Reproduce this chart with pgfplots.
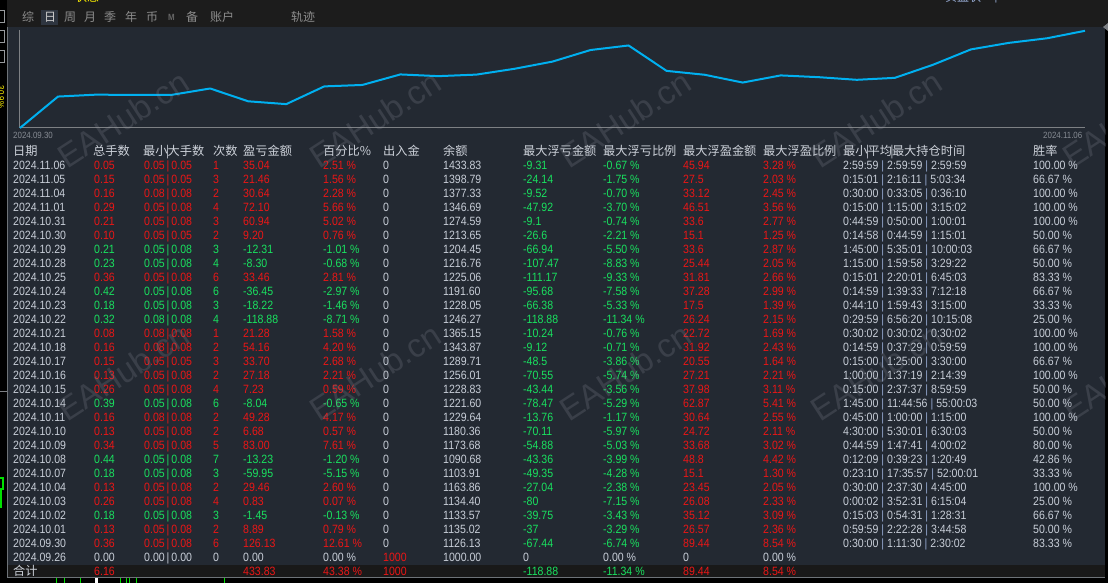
\documentclass[border=0pt]{standalone}
\usepackage{pgfplots}
\pgfplotsset{compat=1.18}
\usepackage{fontspec}
\setmainfont{Liberation Sans}[FakeStretch=0.88]
\newfontfamily\cjk{Noto Sans CJK SC}
\newfontfamily\wm{Liberation Sans}
\definecolor{bgpanel}{RGB}{35,41,50}
\definecolor{topbar}{RGB}{28,28,28}
\definecolor{totbg}{RGB}{25,25,25}
\definecolor{txt}{RGB}{200,206,216}
\definecolor{hdr}{RGB}{205,210,218}
\definecolor{upred}{RGB}{235,22,22}
\definecolor{dngreen}{RGB}{25,225,95}
\definecolor{lineblue}{RGB}{0,176,240}
\definecolor{axgray}{RGB}{125,128,132}
\definecolor{dategray}{RGB}{135,140,148}
\definecolor{wmcol}{RGB}{150,155,165}
\definecolor{tabgray}{RGB}{140,140,140}
\definecolor{tabsel}{RGB}{46,53,64}
\definecolor{sepblue}{RGB}{150,170,210}
\definecolor{tickgreen}{RGB}{0,225,0}
\definecolor{bordergray}{RGB}{110,115,120}
\newcommand{\sep}{\hspace{2pt}|\hspace{2pt}}
\newcommand{\tsep}{\hspace{3pt}\textcolor{sepblue}{|}\hspace{3pt}}
\begin{document}
\begin{tikzpicture}[x=1pt,y=1pt]
\fill[black] (0,0) rectangle (1108,583);
\begin{scope}[y=-1pt,yshift=583pt]
  % frame
  \fill[topbar] (7,0) rectangle (1108,27);
  \fill[bgpanel] (7,27) rectangle (1105,565);
  \fill[totbg] (7,565) rectangle (1105,577);
  \draw[bordergray,line width=1pt] (7.5,27) -- (7.5,577.5) -- (1105,577.5);
  \fill[axgray] (1103,27) -- (1108,23) -- (1108,31) -- cycle;
  % left strip icons
  \draw[axgray!80!white,line width=1pt] (-4,10.5) rectangle (4.5,23);
  \draw[axgray!80!white,line width=1pt] (-4,30.5) rectangle (4.5,43);
  \draw[axgray!80!white,line width=1pt] (-4,50.5) rectangle (4.5,63);
  \node[rotate=-90,text=yellow,inner sep=0,font=\fontsize{9}{9}\selectfont] at (1,97) {30.9\%};
  \draw[axgray,line width=1pt] (0,392) -- (7,392);
  \draw[tickgreen,line width=1.2pt] (-2,478) rectangle (3,489);
  \draw[tickgreen,line width=1.5pt] (1,489) -- (1,508);
  % cut-off texts at the top
  \node[text=yellow,inner sep=0,font=\cjk\fontsize{12}{12}\selectfont] at (87,-3) {状态};
  \node[text=sepblue,inner sep=0,font=\cjk\fontsize{12}{12}\selectfont] at (963,-3) {实盘状};
  \node[text=sepblue,inner sep=0,font=\fontsize{12}{12}\selectfont] at (996,-3) {|};
  % tabs
  \fill[tabsel] (41,10) rectangle (58,25);
  \foreach \x/\t in {22/综,64/周,84/月,104/季,125/年,146/币,186/备,210/账户,291/轨迹}
    \node[anchor=west,inner sep=0,text=tabgray,font=\cjk\fontsize{12}{12}\selectfont] at (\x,17) {\t};
  \node[anchor=west,inner sep=0,text=white!80!black,font=\cjk\fontsize{12}{12}\selectfont] at (44,17) {日};
  \node[anchor=west,inner sep=0,text=black!60!white,font=\bfseries\fontsize{9}{9}\selectfont] at (168,17) {M};
  % bottom ticks
  \foreach \x in {56,64,80,120,126,129,136,224}
    \draw[tickgreen,line width=1pt] (\x,578.5) -- (\x,584);
  \fill[white] (95,578.5) rectangle (98,584);
\end{scope}

\begin{axis}[
  at={(20pt,455pt)}, anchor=south west,
  scale only axis, width=1065pt, height=98pt,
  xmin=0, xmax=28, ymin=979, ymax=1437.6,
  axis x line*=bottom, axis y line*=left,
  axis line style={draw=axgray,line width=1pt,-},
  xtick=\empty, ytick=\empty, clip=false]
\addplot[color=lineblue,line width=2pt,mark=none,line join=round] coordinates {
(0,979) (1,1126.13) (2,1135.02) (3,1133.57) (4,1134.40) (5,1163.86) (6,1103.91)
(7,1090.68) (8,1173.68) (9,1180.36) (10,1229.64) (11,1221.60) (12,1228.83)
(13,1256.01) (14,1289.71) (15,1343.87) (16,1365.15) (17,1246.27) (18,1228.05)
(19,1191.60) (20,1225.06) (21,1216.76) (22,1204.45) (23,1213.65) (24,1274.59)
(25,1346.69) (26,1377.33) (27,1398.79) (28,1433.83)};
\end{axis}

\begin{scope}[y=-1pt,yshift=583pt,
   cell/.style={anchor=base west,inner sep=0,font=\fontsize{12}{14}\selectfont}]
  \node[anchor=west,inner sep=0,text=dategray,font=\fontsize{9}{10}\selectfont] at (13,135) {2024.09.30};
  \node[anchor=west,inner sep=0,text=dategray,font=\fontsize{9}{10}\selectfont] at (1043,135) {2024.11.06};
  % header
  \foreach \x/\t in {13/日期,93/总手数,143/最小\makebox[0pt]{|}大手数,213/次数,243/盈亏金额,323/百分比\%,383/出入金,443/余额,523/最大浮亏金额,603/最大浮亏比例,683/最大浮盈金额,763/最大浮盈比例,843/最小\makebox[0pt]{|}平均\makebox[0pt]{|}最大持仓时间,1033/胜率}
    \node[anchor=base west,inner sep=0,text=hdr,font=\cjk\fontsize{12.2}{13}\selectfont] at (\x,155.4) {\t};
  % rows
  \foreach \rc/\rd/\rn/\rmin/\rmax/\rk/\rp/\rpc/\rbal/\rfl/\rflp/\rfp/\rfpp/\rta/\rtb/\rtc/\rw [count=\i from 0] in {
upred/2024.11.06/0.05/0.05/0.05/1/35.04/2.51/1433.83/-9.31/-0.67/45.94/3.28/2:59:59/2:59:59/2:59:59/100.00,
upred/2024.11.05/0.15/0.05/0.05/3/21.46/1.56/1398.79/-24.14/-1.75/27.5/2.03/0:15:01/2:16:11/5:03:34/66.67,
upred/2024.11.04/0.16/0.08/0.08/2/30.64/2.28/1377.33/-9.52/-0.70/33.12/2.45/0:30:00/0:33:05/0:36:10/100.00,
upred/2024.11.01/0.29/0.05/0.08/4/72.10/5.66/1346.69/-47.92/-3.70/46.51/3.56/0:15:00/1:15:00/3:15:02/100.00,
upred/2024.10.31/0.21/0.05/0.08/3/60.94/5.02/1274.59/-9.1/-0.74/33.6/2.77/0:44:59/0:50:00/1:00:01/100.00,
upred/2024.10.30/0.10/0.05/0.05/2/9.20/0.76/1213.65/-26.6/-2.21/15.1/1.25/0:14:58/0:44:59/1:15:01/50.00,
dngreen/2024.10.29/0.21/0.05/0.08/3/-12.31/-1.01/1204.45/-66.94/-5.50/33.6/2.87/1:45:00/5:35:01/10:00:03/66.67,
dngreen/2024.10.28/0.23/0.05/0.08/4/-8.30/-0.68/1216.76/-107.47/-8.83/25.44/2.05/1:15:00/1:59:58/3:29:22/50.00,
upred/2024.10.25/0.36/0.05/0.08/6/33.46/2.81/1225.06/-111.17/-9.33/31.81/2.66/0:15:01/2:20:01/6:45:03/83.33,
dngreen/2024.10.24/0.42/0.05/0.08/6/-36.45/-2.97/1191.60/-95.68/-7.58/37.28/2.99/0:14:59/1:39:33/7:12:18/66.67,
dngreen/2024.10.23/0.18/0.05/0.08/3/-18.22/-1.46/1228.05/-66.38/-5.33/17.5/1.39/0:44:10/1:59:43/3:15:00/33.33,
dngreen/2024.10.22/0.32/0.08/0.08/4/-118.88/-8.71/1246.27/-118.88/-11.34/26.24/2.15/0:29:59/6:56:20/10:15:08/25.00,
upred/2024.10.21/0.08/0.08/0.08/1/21.28/1.58/1365.15/-10.24/-0.76/22.72/1.69/0:30:02/0:30:02/0:30:02/100.00,
upred/2024.10.18/0.16/0.08/0.08/2/54.16/4.20/1343.87/-9.12/-0.71/31.92/2.43/0:14:59/0:37:29/0:59:59/100.00,
upred/2024.10.17/0.15/0.05/0.05/3/33.70/2.68/1289.71/-48.5/-3.86/20.55/1.64/0:15:00/1:25:00/3:30:00/66.67,
upred/2024.10.16/0.13/0.05/0.08/2/27.18/2.21/1256.01/-70.55/-5.74/27.21/2.21/1:00:00/1:37:19/2:14:39/100.00,
upred/2024.10.15/0.26/0.05/0.08/4/7.23/0.59/1228.83/-43.44/-3.56/37.98/3.11/0:15:00/2:37:37/8:59:59/50.00,
dngreen/2024.10.14/0.39/0.05/0.08/6/-8.04/-0.65/1221.60/-78.47/-5.29/62.87/5.41/1:45:00/11:44:56/55:00:03/50.00,
upred/2024.10.11/0.16/0.08/0.08/2/49.28/4.17/1229.64/-13.76/-1.17/30.64/2.55/0:45:00/1:00:00/1:15:00/100.00,
upred/2024.10.10/0.13/0.05/0.08/2/6.68/0.57/1180.36/-70.11/-5.97/24.72/2.11/4:30:00/5:30:01/6:30:03/50.00,
upred/2024.10.09/0.34/0.05/0.08/5/83.00/7.61/1173.68/-54.88/-5.03/33.68/3.02/0:44:59/1:47:41/4:00:02/80.00,
dngreen/2024.10.08/0.44/0.05/0.08/7/-13.23/-1.20/1090.68/-43.36/-3.99/48.8/4.42/0:12:09/0:39:23/1:20:49/42.86,
dngreen/2024.10.07/0.18/0.05/0.08/3/-59.95/-5.15/1103.91/-49.35/-4.28/15.1/1.30/0:23:10/17:35:57/52:00:01/33.33,
upred/2024.10.04/0.13/0.05/0.08/2/29.46/2.60/1163.86/-27.04/-2.38/23.45/2.05/0:30:00/2:37:30/4:45:00/100.00,
upred/2024.10.03/0.26/0.05/0.08/4/0.83/0.07/1134.40/-80/-7.15/26.08/2.33/0:00:02/3:52:31/6:15:04/25.00,
dngreen/2024.10.02/0.18/0.05/0.08/3/-1.45/-0.13/1133.57/-39.75/-3.43/35.12/3.09/0:15:03/0:54:31/1:28:31/66.67,
upred/2024.10.01/0.13/0.05/0.08/2/8.89/0.79/1135.02/-37/-3.29/26.57/2.36/0:59:59/2:22:28/3:44:58/50.00,
upred/2024.09.30/0.36/0.05/0.08/6/126.13/12.61/1126.13/-67.44/-6.74/89.44/8.54/0:30:00/1:11:30/2:30:02/83.33}{
    \pgfmathsetmacro{\yy}{169.4+14*\i}
    \node[cell,text=txt] at (13,\yy) {\rd};
    \node[cell,text=\rc] at (94,\yy) {\rn};
    \node[cell,text=\rc] at (144,\yy) {\rmin\sep\rmax};
    \node[cell,text=\rc] at (213,\yy) {\rk};
    \node[cell,text=\rc] at (243,\yy) {\rp};
    \node[cell,text=\rc] at (323,\yy) {\rpc\ \%};
    \node[cell,text=txt] at (383,\yy) {0};
    \node[cell,text=txt] at (443,\yy) {\rbal};
    \node[cell,text=dngreen] at (523,\yy) {\rfl};
    \node[cell,text=dngreen] at (603,\yy) {\rflp\ \%};
    \node[cell,text=upred] at (683,\yy) {\rfp};
    \node[cell,text=upred] at (763,\yy) {\rfpp\ \%};
    \node[cell,text=txt] at (843,\yy) {\rta\tsep\rtb\tsep\rtc};
    \node[cell,text=txt] at (1033,\yy) {\rw\ \%};
  }
  % 2024.09.26 row
  \def\yy{561.4}
  \node[cell,text=txt] at (13,\yy) {2024.09.26};
  \node[cell,text=txt] at (94,\yy) {0.00};
  \node[cell,text=txt] at (144,\yy) {0.00\sep0.00};
  \node[cell,text=txt] at (213,\yy) {0};
  \node[cell,text=txt] at (243,\yy) {0.00};
  \node[cell,text=txt] at (323,\yy) {0.00 \%};
  \node[cell,text=upred] at (383,\yy) {1000};
  \node[cell,text=txt] at (443,\yy) {1000.00};
  \node[cell,text=txt] at (523,\yy) {0};
  \node[cell,text=txt] at (603,\yy) {0.00 \%};
  \node[cell,text=txt] at (683,\yy) {0};
  \node[cell,text=txt] at (763,\yy) {0.00 \%};
  % total row
  \def\yy{575.4}
  \node[anchor=base west,inner sep=0,text=hdr,font=\cjk\fontsize{12.2}{13}\selectfont] at (13,\yy) {合计};
  \node[cell,text=upred] at (94,\yy) {6.16};
  \node[cell,text=upred] at (243,\yy) {433.83};
  \node[cell,text=upred] at (323,\yy) {43.38 \%};
  \node[cell,text=upred] at (383,\yy) {1000};
  \node[cell,text=dngreen] at (523,\yy) {-118.88};
  \node[cell,text=dngreen] at (603,\yy) {-11.34 \%};
  \node[cell,text=upred] at (683,\yy) {89.44};
  \node[cell,text=upred] at (763,\yy) {8.54 \%};
  % watermarks
  \begin{scope}
    \clip (7,27) rectangle (1105,577);
    \foreach \wx in {123,375,625,876,1128}
      \foreach \wy in {119,372,625}
        \node[rotate=33,text=wmcol,opacity=0.2,inner sep=0,font=\wm\fontsize{33}{33}\selectfont] at (\wx,\wy) {EAHub.cn};
  \end{scope}
\end{scope}
\pgfresetboundingbox
\path[use as bounding box] (0,0) rectangle (1108,583);
\end{tikzpicture}
\end{document}
